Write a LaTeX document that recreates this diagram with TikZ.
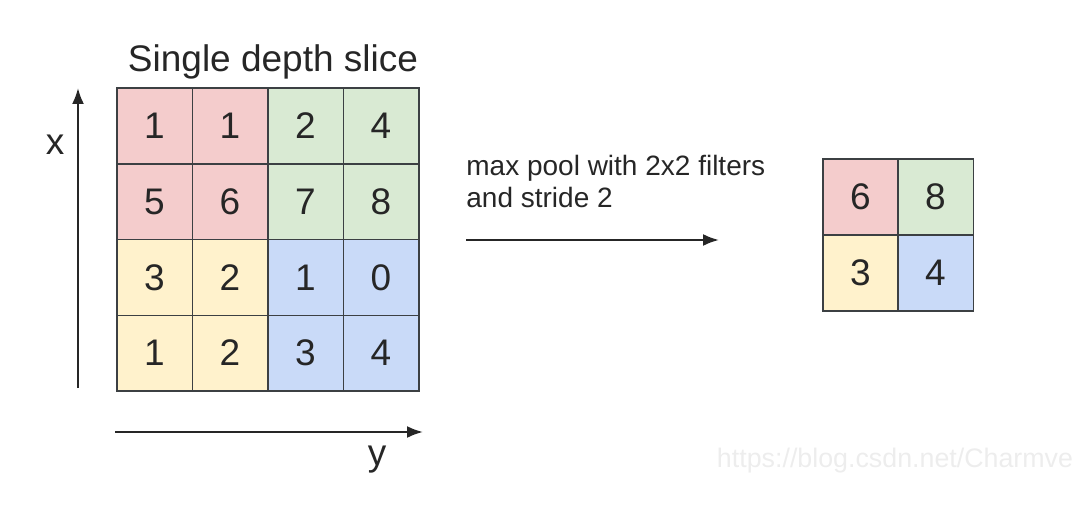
\documentclass[tikz,border=0pt]{standalone}
\usepackage{fontspec}
\setmainfont{Liberation Sans}
\usetikzlibrary{calc,arrows.meta}
\definecolor{pinkc}{HTML}{F4CCCC}
\definecolor{greenc}{HTML}{D9EAD3}
\definecolor{yellowc}{HTML}{FFF2CC}
\definecolor{bluec}{HTML}{C9DAF8}
\definecolor{gridc}{HTML}{3C4043}
\def\cellsize{37.75pt}

\begin{document}
\begin{tikzpicture}[x=0.5pt, y=-0.5pt]
	\tikzstyle{cell}  = [rectangle, draw=gridc, line width=0.75pt, minimum width=\cellsize, minimum height=\cellsize, inner sep=0pt, text=black!85, font=\fontsize{18.5}{20}\selectfont]
	\tikzstyle{axis}  = [line width=1.1pt, black!85, -{Latex[length=8pt, width=6pt]}]
	\useasboundingbox (0, 0) rectangle (1090, 523);

	\node [font=\fontsize{18.5}{20}\selectfont, text=black!85](title) at (273, 62) {Single depth slice};
	%%Input slice
	\node [cell, fill=pinkc](a11) at (154.5, 126) {1};
	\node [cell, fill=pinkc](a12) at (230, 126) {1};
	\node [cell, fill=greenc](a13) at (305.5, 126) {2};
	\node [cell, fill=greenc](a14) at (381, 126) {4};
	\node [cell, fill=pinkc](a21) at (154.5, 202) {5};
	\node [cell, fill=pinkc](a22) at (230, 202) {6};
	\node [cell, fill=greenc](a23) at (305.5, 202) {7};
	\node [cell, fill=greenc](a24) at (381, 202) {8};
	\node [cell, fill=yellowc](a31) at (154.5, 277.5) {3};
	\node [cell, fill=yellowc](a32) at (230, 277.5) {2};
	\node [cell, fill=bluec](a33) at (305.5, 277.5) {1};
	\node [cell, fill=bluec](a34) at (381, 277.5) {0};
	\node [cell, fill=yellowc](a41) at (154.5, 353) {1};
	\node [cell, fill=yellowc](a42) at (230, 353) {2};
	\node [cell, fill=bluec](a43) at (305.5, 353) {3};
	\node [cell, fill=bluec](a44) at (381, 353) {4};

	%%Pooled output
	\node [cell, fill=pinkc](b11) at (860.5, 197) {6};
	\node [cell, fill=greenc](b12) at (935.5, 197) {8};
	\node [cell, fill=yellowc](b21) at (860.5, 273) {3};
	\node [cell, fill=bluec](b22) at (935.5, 273) {4};

	%%Axes
	\coordinate (xs) at (78, 388);
	\coordinate (xe) at (78, 88);
	\coordinate (ys) at (115, 432);
	\coordinate (ye) at (423, 432);
	\draw[axis] (xs)--(xe);
	\draw[axis] (ys)--(ye);
	\node [font=\fontsize{18.5}{20}\selectfont, text=black!85](lx) at (55, 145) {x};
	\node [font=\fontsize{18.5}{20}\selectfont, text=black!85](ly) at (377, 460) {y};

	%%Pooling arrow
	\node [anchor=north west, align=left, inner sep=0pt, font=\fontsize{14}{16}\selectfont, text=black!85](op) at (466, 155) {max pool with 2x2 filters\\and stride 2};
	\coordinate (ps) at (466, 240);
	\coordinate (pe) at (719, 240);
	\draw[axis] (ps)--(pe);

	\node [font=\fontsize{13.4}{15}\selectfont, text=black!7](wm) at (895, 461) {https://blog.csdn.net/Charmve};
\end{tikzpicture}
\end{document}
